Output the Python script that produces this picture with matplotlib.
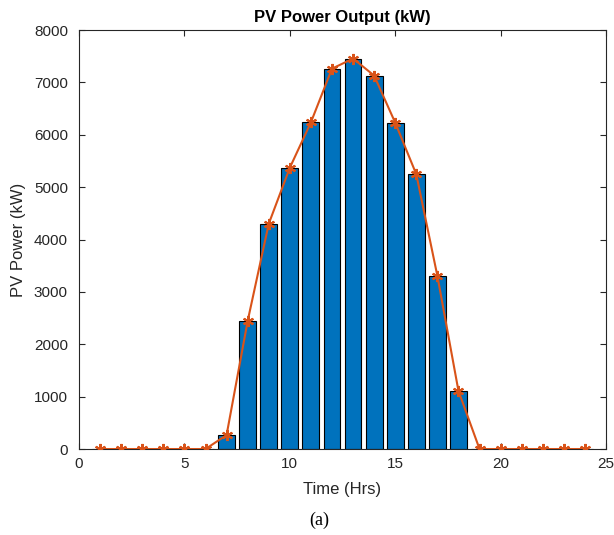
import matplotlib
matplotlib.use("Agg")
import matplotlib.pyplot as plt

hours = list(range(1, 25))
pvPower = [0, 0, 0, 0, 0, 0, 267, 2444, 4300, 5370, 6237, 7262, 7455, 7130,
           6230, 5245, 3305, 1110, 0, 0, 0, 0, 0, 0]

xTicks = [0, 5, 10, 15, 20, 25]
yTicks = [0, 1000, 2000, 3000, 4000, 5000, 6000, 7000, 8000]

plt.rcParams['font.family'] = ['Liberation Sans', 'DejaVu Sans']

fig = plt.figure(figsize=(6.14, 5.35), dpi=100)
ax = fig.add_axes([0.1287, 0.1607, 0.8583, 0.7832])

ax.bar(hours, pvPower, width=0.8, color='#0072BD', edgecolor='black', linewidth=0.8, zorder=2)
# MATLAB-style asterisk marker (6 spokes)
ax.plot(hours, pvPower, color='#D95319', marker=(6, 2, 0), markersize=8,
        markeredgewidth=1.5, linewidth=1.5, zorder=3)

ax.set_xlim(0, 25)
ax.set_ylim(0, 8000)
ax.set_xticks(xTicks)
ax.set_yticks(yTicks)
ax.tick_params(direction='in', top=True, right=True, labelsize=11, colors='#262626',
               labelcolor='#262626', length=4)
ax.tick_params(axis='x', pad=6)
ax.tick_params(axis='y', pad=8)
for spine in ax.spines.values():
    spine.set_color('#262626')
    spine.set_linewidth(0.8)

ax.set_xlabel('Time (Hrs)', fontsize=12, color='#262626', labelpad=8)
ax.set_ylabel('PV Power (kW)', fontsize=12, color='#262626', labelpad=6)
ax.set_title('PV Power Output (kW)', fontsize=12, fontweight='bold', pad=6)

fig.text(0.5 + 0.02, 0.028, '(a)', ha='center', va='center', fontsize=13,
         family=['Liberation Serif', 'DejaVu Serif'])

fig.savefig('out.png', dpi=100)
